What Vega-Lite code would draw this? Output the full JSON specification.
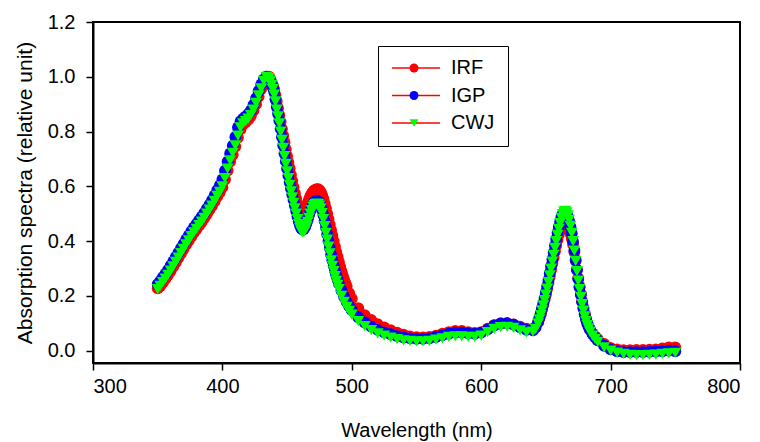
{
"$schema":"https://vega.github.io/schema/vega-lite/v6.json",
"width":647,"height":341,
"autosize":"none",
"padding":{"left":93,"top":22,"right":20,"bottom":79},
"config":{
 "font":"Liberation Sans",
 "view":{"stroke":"black","strokeWidth":2},
 "axis":{"domainColor":"black","domainWidth":2,"tickColor":"black","tickWidth":1.5,"tickSize":7,"labelFontSize":20,"labelColor":"black","titleFontSize":20,"titleFontWeight":"normal","titleColor":"black","grid":false,"labelFont":"Liberation Sans","titleFont":"Liberation Sans"}
},
"data":{"values":[
{"s":"IRF","w":350,"v":0.228},{"s":"IRF","w":352,"v":0.236},{"s":"IRF","w":354,"v":0.249},{"s":"IRF","w":356,"v":0.262},{"s":"IRF","w":358,"v":0.276},{"s":"IRF","w":360,"v":0.291},{"s":"IRF","w":362,"v":0.307},{"s":"IRF","w":364,"v":0.323},{"s":"IRF","w":366,"v":0.339},{"s":"IRF","w":368,"v":0.355},{"s":"IRF","w":370,"v":0.371},{"s":"IRF","w":372,"v":0.387},{"s":"IRF","w":374,"v":0.402},{"s":"IRF","w":376,"v":0.417},{"s":"IRF","w":378,"v":0.431},{"s":"IRF","w":380,"v":0.444},{"s":"IRF","w":382,"v":0.457},{"s":"IRF","w":384,"v":0.47},{"s":"IRF","w":386,"v":0.484},{"s":"IRF","w":388,"v":0.499},{"s":"IRF","w":390,"v":0.514},{"s":"IRF","w":392,"v":0.529},{"s":"IRF","w":394,"v":0.545},{"s":"IRF","w":396,"v":0.563},{"s":"IRF","w":398,"v":0.578},{"s":"IRF","w":400,"v":0.597},{"s":"IRF","w":402,"v":0.625},{"s":"IRF","w":404,"v":0.658},{"s":"IRF","w":406,"v":0.69},{"s":"IRF","w":408,"v":0.715},{"s":"IRF","w":410,"v":0.745},{"s":"IRF","w":412,"v":0.778},{"s":"IRF","w":414,"v":0.808},{"s":"IRF","w":416,"v":0.826},{"s":"IRF","w":418,"v":0.835},{"s":"IRF","w":420,"v":0.844},{"s":"IRF","w":422,"v":0.857},{"s":"IRF","w":424,"v":0.877},{"s":"IRF","w":426,"v":0.9},{"s":"IRF","w":428,"v":0.928},{"s":"IRF","w":430,"v":0.955},{"s":"IRF","w":432,"v":0.982},{"s":"IRF","w":434,"v":1.0},
{"s":"IRF","w":436,"v":1.0},{"s":"IRF","w":437,"v":0.992},{"s":"IRF","w":438,"v":0.98},{"s":"IRF","w":439,"v":0.968},{"s":"IRF","w":440,"v":0.955},{"s":"IRF","w":441,"v":0.933},{"s":"IRF","w":442,"v":0.91},{"s":"IRF","w":443,"v":0.885},{"s":"IRF","w":444,"v":0.86},{"s":"IRF","w":445,"v":0.835},{"s":"IRF","w":446,"v":0.81},{"s":"IRF","w":447,"v":0.785},{"s":"IRF","w":448,"v":0.76},{"s":"IRF","w":449,"v":0.735},{"s":"IRF","w":450,"v":0.71},{"s":"IRF","w":451,"v":0.687},{"s":"IRF","w":452,"v":0.665},{"s":"IRF","w":453,"v":0.642},{"s":"IRF","w":454,"v":0.62},{"s":"IRF","w":455,"v":0.597},{"s":"IRF","w":456,"v":0.575},{"s":"IRF","w":457,"v":0.555},{"s":"IRF","w":458,"v":0.535},{"s":"IRF","w":459,"v":0.52},{"s":"IRF","w":460,"v":0.51},{"s":"IRF","w":461,"v":0.505},{"s":"IRF","w":462,"v":0.505},{"s":"IRF","w":463,"v":0.508},{"s":"IRF","w":464,"v":0.515},{"s":"IRF","w":465,"v":0.527},{"s":"IRF","w":466,"v":0.54},{"s":"IRF","w":467,"v":0.553},{"s":"IRF","w":468,"v":0.565},{"s":"IRF","w":469,"v":0.573},{"s":"IRF","w":470,"v":0.58},{"s":"IRF","w":471,"v":0.585},{"s":"IRF","w":472,"v":0.588},{"s":"IRF","w":473,"v":0.59},{"s":"IRF","w":474,"v":0.59},{"s":"IRF","w":475,"v":0.586},{"s":"IRF","w":476,"v":0.58},{"s":"IRF","w":477,"v":0.569},{"s":"IRF","w":478,"v":0.555},{"s":"IRF","w":479,"v":0.538},{"s":"IRF","w":480,"v":0.52},{"s":"IRF","w":481,"v":0.5},{"s":"IRF","w":482,"v":0.48},{"s":"IRF","w":483,"v":0.46},{"s":"IRF","w":484,"v":0.44},{"s":"IRF","w":485,"v":0.42},{"s":"IRF","w":486,"v":0.4},{"s":"IRF","w":487,"v":0.38},{"s":"IRF","w":488,"v":0.36},{"s":"IRF","w":489,"v":0.342},{"s":"IRF","w":490,"v":0.325},{"s":"IRF","w":491,"v":0.307},{"s":"IRF","w":492,"v":0.29},{"s":"IRF","w":493,"v":0.275},{"s":"IRF","w":494,"v":0.26},{"s":"IRF","w":495,"v":0.247},{"s":"IRF","w":496,"v":0.235},{"s":"IRF","w":498,"v":0.21},{"s":"IRF","w":500,"v":0.19},
{"s":"IRF","w":505,"v":0.155},{"s":"IRF","w":510,"v":0.13},{"s":"IRF","w":515,"v":0.112},{"s":"IRF","w":520,"v":0.097},{"s":"IRF","w":525,"v":0.085},{"s":"IRF","w":530,"v":0.075},{"s":"IRF","w":535,"v":0.066},{"s":"IRF","w":540,"v":0.058},{"s":"IRF","w":545,"v":0.052},{"s":"IRF","w":550,"v":0.049},{"s":"IRF","w":555,"v":0.048},{"s":"IRF","w":560,"v":0.05},{"s":"IRF","w":565,"v":0.055},{"s":"IRF","w":570,"v":0.062},{"s":"IRF","w":575,"v":0.068},{"s":"IRF","w":580,"v":0.072},{"s":"IRF","w":585,"v":0.072},{"s":"IRF","w":590,"v":0.068},{"s":"IRF","w":595,"v":0.065},{"s":"IRF","w":600,"v":0.068},{"s":"IRF","w":605,"v":0.08},{"s":"IRF","w":610,"v":0.093},{"s":"IRF","w":615,"v":0.1},{"s":"IRF","w":620,"v":0.1},{"s":"IRF","w":625,"v":0.096},{"s":"IRF","w":630,"v":0.088},{"s":"IRF","w":635,"v":0.08},{"s":"IRF","w":640,"v":0.078},{"s":"IRF","w":642,"v":0.086},
{"s":"IRF","w":644,"v":0.104},{"s":"IRF","w":645,"v":0.118},{"s":"IRF","w":646,"v":0.133},{"s":"IRF","w":647,"v":0.15},{"s":"IRF","w":648,"v":0.167},{"s":"IRF","w":649,"v":0.186},{"s":"IRF","w":650,"v":0.205},{"s":"IRF","w":651,"v":0.226},{"s":"IRF","w":652,"v":0.248},{"s":"IRF","w":653,"v":0.271},{"s":"IRF","w":654,"v":0.295},{"s":"IRF","w":655,"v":0.318},{"s":"IRF","w":656,"v":0.34},{"s":"IRF","w":657,"v":0.363},{"s":"IRF","w":658,"v":0.385},{"s":"IRF","w":659,"v":0.405},{"s":"IRF","w":660,"v":0.425},{"s":"IRF","w":661,"v":0.44},{"s":"IRF","w":662,"v":0.45},{"s":"IRF","w":663,"v":0.457},{"s":"IRF","w":664,"v":0.46},{"s":"IRF","w":665,"v":0.46},{"s":"IRF","w":666,"v":0.455},{"s":"IRF","w":667,"v":0.448},{"s":"IRF","w":668,"v":0.44},{"s":"IRF","w":669,"v":0.427},{"s":"IRF","w":670,"v":0.41},{"s":"IRF","w":671,"v":0.388},{"s":"IRF","w":672,"v":0.36},{"s":"IRF","w":673,"v":0.328},{"s":"IRF","w":674,"v":0.295},{"s":"IRF","w":675,"v":0.265},{"s":"IRF","w":676,"v":0.235},{"s":"IRF","w":677,"v":0.207},{"s":"IRF","w":678,"v":0.18},{"s":"IRF","w":679,"v":0.157},{"s":"IRF","w":680,"v":0.135},{"s":"IRF","w":681,"v":0.117},{"s":"IRF","w":682,"v":0.1},{"s":"IRF","w":683,"v":0.088},{"s":"IRF","w":684,"v":0.078},{"s":"IRF","w":686,"v":0.063},{"s":"IRF","w":688,"v":0.052},{"s":"IRF","w":690,"v":0.043},
{"s":"IRF","w":695,"v":0.025},{"s":"IRF","w":700,"v":0.01},{"s":"IRF","w":705,"v":0.005},{"s":"IRF","w":710,"v":0.002},{"s":"IRF","w":715,"v":0.002},{"s":"IRF","w":720,"v":0.003},{"s":"IRF","w":725,"v":0.003},{"s":"IRF","w":730,"v":0.004},{"s":"IRF","w":735,"v":0.005},{"s":"IRF","w":740,"v":0.008},{"s":"IRF","w":745,"v":0.012},{"s":"IRF","w":750,"v":0.012},
{"s":"IGP","w":350,"v":0.243},{"s":"IGP","w":352,"v":0.255},{"s":"IGP","w":354,"v":0.268},{"s":"IGP","w":356,"v":0.281},{"s":"IGP","w":358,"v":0.295},{"s":"IGP","w":360,"v":0.31},{"s":"IGP","w":362,"v":0.326},{"s":"IGP","w":364,"v":0.342},{"s":"IGP","w":366,"v":0.358},{"s":"IGP","w":368,"v":0.374},{"s":"IGP","w":370,"v":0.39},{"s":"IGP","w":372,"v":0.406},{"s":"IGP","w":374,"v":0.421},{"s":"IGP","w":376,"v":0.436},{"s":"IGP","w":378,"v":0.45},{"s":"IGP","w":380,"v":0.463},{"s":"IGP","w":382,"v":0.476},{"s":"IGP","w":384,"v":0.489},{"s":"IGP","w":386,"v":0.503},{"s":"IGP","w":388,"v":0.518},{"s":"IGP","w":390,"v":0.533},{"s":"IGP","w":392,"v":0.549},{"s":"IGP","w":394,"v":0.567},{"s":"IGP","w":396,"v":0.586},{"s":"IGP","w":398,"v":0.603},{"s":"IGP","w":400,"v":0.625},{"s":"IGP","w":402,"v":0.657},{"s":"IGP","w":404,"v":0.69},{"s":"IGP","w":406,"v":0.72},{"s":"IGP","w":408,"v":0.748},{"s":"IGP","w":410,"v":0.78},{"s":"IGP","w":412,"v":0.815},{"s":"IGP","w":414,"v":0.837},{"s":"IGP","w":416,"v":0.847},{"s":"IGP","w":418,"v":0.855},{"s":"IGP","w":420,"v":0.864},{"s":"IGP","w":422,"v":0.877},{"s":"IGP","w":424,"v":0.897},{"s":"IGP","w":426,"v":0.922},{"s":"IGP","w":428,"v":0.948},{"s":"IGP","w":430,"v":0.972},{"s":"IGP","w":432,"v":0.99},{"s":"IGP","w":434,"v":1.0},
{"s":"IGP","w":436,"v":0.995},{"s":"IGP","w":437,"v":0.985},{"s":"IGP","w":438,"v":0.972},{"s":"IGP","w":439,"v":0.96},{"s":"IGP","w":440,"v":0.945},{"s":"IGP","w":441,"v":0.918},{"s":"IGP","w":442,"v":0.89},{"s":"IGP","w":443,"v":0.865},{"s":"IGP","w":444,"v":0.84},{"s":"IGP","w":445,"v":0.81},{"s":"IGP","w":446,"v":0.78},{"s":"IGP","w":447,"v":0.75},{"s":"IGP","w":448,"v":0.72},{"s":"IGP","w":449,"v":0.692},{"s":"IGP","w":450,"v":0.665},{"s":"IGP","w":451,"v":0.64},{"s":"IGP","w":452,"v":0.615},{"s":"IGP","w":453,"v":0.592},{"s":"IGP","w":454,"v":0.57},{"s":"IGP","w":455,"v":0.55},{"s":"IGP","w":456,"v":0.53},{"s":"IGP","w":457,"v":0.51},{"s":"IGP","w":458,"v":0.49},{"s":"IGP","w":459,"v":0.472},{"s":"IGP","w":460,"v":0.457},{"s":"IGP","w":461,"v":0.446},{"s":"IGP","w":462,"v":0.442},{"s":"IGP","w":463,"v":0.444},{"s":"IGP","w":464,"v":0.452},{"s":"IGP","w":465,"v":0.465},{"s":"IGP","w":466,"v":0.48},{"s":"IGP","w":467,"v":0.495},{"s":"IGP","w":468,"v":0.51},{"s":"IGP","w":469,"v":0.523},{"s":"IGP","w":470,"v":0.535},{"s":"IGP","w":471,"v":0.541},{"s":"IGP","w":472,"v":0.545},{"s":"IGP","w":473,"v":0.547},{"s":"IGP","w":474,"v":0.545},{"s":"IGP","w":475,"v":0.54},{"s":"IGP","w":476,"v":0.53},{"s":"IGP","w":477,"v":0.514},{"s":"IGP","w":478,"v":0.495},{"s":"IGP","w":479,"v":0.473},{"s":"IGP","w":480,"v":0.45},{"s":"IGP","w":481,"v":0.425},{"s":"IGP","w":482,"v":0.4},{"s":"IGP","w":483,"v":0.375},{"s":"IGP","w":484,"v":0.35},{"s":"IGP","w":485,"v":0.33},{"s":"IGP","w":486,"v":0.31},{"s":"IGP","w":487,"v":0.292},{"s":"IGP","w":488,"v":0.275},{"s":"IGP","w":489,"v":0.26},{"s":"IGP","w":490,"v":0.245},{"s":"IGP","w":492,"v":0.22},{"s":"IGP","w":494,"v":0.197},{"s":"IGP","w":496,"v":0.178},{"s":"IGP","w":498,"v":0.162},{"s":"IGP","w":500,"v":0.148},
{"s":"IGP","w":505,"v":0.122},{"s":"IGP","w":510,"v":0.103},{"s":"IGP","w":515,"v":0.088},{"s":"IGP","w":520,"v":0.076},{"s":"IGP","w":525,"v":0.067},{"s":"IGP","w":530,"v":0.06},{"s":"IGP","w":535,"v":0.053},{"s":"IGP","w":540,"v":0.048},{"s":"IGP","w":545,"v":0.045},{"s":"IGP","w":550,"v":0.043},{"s":"IGP","w":555,"v":0.043},{"s":"IGP","w":560,"v":0.045},{"s":"IGP","w":565,"v":0.05},{"s":"IGP","w":570,"v":0.056},{"s":"IGP","w":575,"v":0.062},{"s":"IGP","w":580,"v":0.066},{"s":"IGP","w":585,"v":0.066},{"s":"IGP","w":590,"v":0.063},{"s":"IGP","w":595,"v":0.062},{"s":"IGP","w":600,"v":0.066},{"s":"IGP","w":605,"v":0.078},{"s":"IGP","w":610,"v":0.092},{"s":"IGP","w":615,"v":0.099},{"s":"IGP","w":620,"v":0.1},{"s":"IGP","w":625,"v":0.095},{"s":"IGP","w":630,"v":0.085},{"s":"IGP","w":635,"v":0.076},{"s":"IGP","w":640,"v":0.074},{"s":"IGP","w":642,"v":0.085},
{"s":"IGP","w":644,"v":0.105},{"s":"IGP","w":645,"v":0.12},{"s":"IGP","w":646,"v":0.137},{"s":"IGP","w":647,"v":0.154},{"s":"IGP","w":648,"v":0.173},{"s":"IGP","w":649,"v":0.193},{"s":"IGP","w":650,"v":0.213},{"s":"IGP","w":651,"v":0.235},{"s":"IGP","w":652,"v":0.258},{"s":"IGP","w":653,"v":0.283},{"s":"IGP","w":654,"v":0.308},{"s":"IGP","w":655,"v":0.333},{"s":"IGP","w":656,"v":0.358},{"s":"IGP","w":657,"v":0.383},{"s":"IGP","w":658,"v":0.408},{"s":"IGP","w":659,"v":0.431},{"s":"IGP","w":660,"v":0.452},{"s":"IGP","w":661,"v":0.471},{"s":"IGP","w":662,"v":0.488},{"s":"IGP","w":663,"v":0.499},{"s":"IGP","w":664,"v":0.505},{"s":"IGP","w":665,"v":0.505},{"s":"IGP","w":666,"v":0.5},{"s":"IGP","w":667,"v":0.488},{"s":"IGP","w":668,"v":0.473},{"s":"IGP","w":669,"v":0.452},{"s":"IGP","w":670,"v":0.428},{"s":"IGP","w":671,"v":0.398},{"s":"IGP","w":672,"v":0.366},{"s":"IGP","w":673,"v":0.331},{"s":"IGP","w":674,"v":0.295},{"s":"IGP","w":675,"v":0.262},{"s":"IGP","w":676,"v":0.232},{"s":"IGP","w":677,"v":0.204},{"s":"IGP","w":678,"v":0.178},{"s":"IGP","w":679,"v":0.154},{"s":"IGP","w":680,"v":0.133},{"s":"IGP","w":681,"v":0.115},{"s":"IGP","w":682,"v":0.1},{"s":"IGP","w":683,"v":0.088},{"s":"IGP","w":684,"v":0.077},{"s":"IGP","w":686,"v":0.061},{"s":"IGP","w":688,"v":0.049},{"s":"IGP","w":690,"v":0.038},
{"s":"IGP","w":695,"v":0.018},{"s":"IGP","w":700,"v":0.005},{"s":"IGP","w":705,"v":-0.002},{"s":"IGP","w":710,"v":-0.005},{"s":"IGP","w":715,"v":-0.005},{"s":"IGP","w":720,"v":-0.005},{"s":"IGP","w":725,"v":-0.005},{"s":"IGP","w":730,"v":-0.004},{"s":"IGP","w":735,"v":-0.003},{"s":"IGP","w":740,"v":-0.002},{"s":"IGP","w":745,"v":0.0},{"s":"IGP","w":750,"v":-0.002},
{"s":"CWJ","w":350,"v":0.225},{"s":"CWJ","w":352,"v":0.237},{"s":"CWJ","w":354,"v":0.25},{"s":"CWJ","w":356,"v":0.263},{"s":"CWJ","w":358,"v":0.277},{"s":"CWJ","w":360,"v":0.292},{"s":"CWJ","w":362,"v":0.308},{"s":"CWJ","w":364,"v":0.324},{"s":"CWJ","w":366,"v":0.34},{"s":"CWJ","w":368,"v":0.356},{"s":"CWJ","w":370,"v":0.372},{"s":"CWJ","w":372,"v":0.388},{"s":"CWJ","w":374,"v":0.403},{"s":"CWJ","w":376,"v":0.418},{"s":"CWJ","w":378,"v":0.432},{"s":"CWJ","w":380,"v":0.445},{"s":"CWJ","w":382,"v":0.458},{"s":"CWJ","w":384,"v":0.471},{"s":"CWJ","w":386,"v":0.485},{"s":"CWJ","w":388,"v":0.5},{"s":"CWJ","w":390,"v":0.515},{"s":"CWJ","w":392,"v":0.53},{"s":"CWJ","w":394,"v":0.547},{"s":"CWJ","w":396,"v":0.565},{"s":"CWJ","w":398,"v":0.58},{"s":"CWJ","w":400,"v":0.6},{"s":"CWJ","w":402,"v":0.63},{"s":"CWJ","w":404,"v":0.665},{"s":"CWJ","w":406,"v":0.695},{"s":"CWJ","w":408,"v":0.722},{"s":"CWJ","w":410,"v":0.75},{"s":"CWJ","w":412,"v":0.785},{"s":"CWJ","w":414,"v":0.815},{"s":"CWJ","w":416,"v":0.83},{"s":"CWJ","w":418,"v":0.838},{"s":"CWJ","w":420,"v":0.847},{"s":"CWJ","w":422,"v":0.86},{"s":"CWJ","w":424,"v":0.88},{"s":"CWJ","w":426,"v":0.905},{"s":"CWJ","w":428,"v":0.932},{"s":"CWJ","w":430,"v":0.958},{"s":"CWJ","w":432,"v":0.985},{"s":"CWJ","w":434,"v":1.0},
{"s":"CWJ","w":436,"v":0.995},{"s":"CWJ","w":437,"v":0.985},{"s":"CWJ","w":438,"v":0.97},{"s":"CWJ","w":439,"v":0.955},{"s":"CWJ","w":440,"v":0.935},{"s":"CWJ","w":441,"v":0.91},{"s":"CWJ","w":442,"v":0.88},{"s":"CWJ","w":443,"v":0.855},{"s":"CWJ","w":444,"v":0.83},{"s":"CWJ","w":445,"v":0.8},{"s":"CWJ","w":446,"v":0.77},{"s":"CWJ","w":447,"v":0.74},{"s":"CWJ","w":448,"v":0.71},{"s":"CWJ","w":449,"v":0.682},{"s":"CWJ","w":450,"v":0.655},{"s":"CWJ","w":451,"v":0.63},{"s":"CWJ","w":452,"v":0.605},{"s":"CWJ","w":453,"v":0.582},{"s":"CWJ","w":454,"v":0.56},{"s":"CWJ","w":455,"v":0.54},{"s":"CWJ","w":456,"v":0.52},{"s":"CWJ","w":457,"v":0.5},{"s":"CWJ","w":458,"v":0.48},{"s":"CWJ","w":459,"v":0.462},{"s":"CWJ","w":460,"v":0.447},{"s":"CWJ","w":461,"v":0.436},{"s":"CWJ","w":462,"v":0.432},{"s":"CWJ","w":463,"v":0.434},{"s":"CWJ","w":464,"v":0.442},{"s":"CWJ","w":465,"v":0.455},{"s":"CWJ","w":466,"v":0.47},{"s":"CWJ","w":467,"v":0.485},{"s":"CWJ","w":468,"v":0.5},{"s":"CWJ","w":469,"v":0.513},{"s":"CWJ","w":470,"v":0.525},{"s":"CWJ","w":471,"v":0.531},{"s":"CWJ","w":472,"v":0.535},{"s":"CWJ","w":473,"v":0.537},{"s":"CWJ","w":474,"v":0.535},{"s":"CWJ","w":475,"v":0.53},{"s":"CWJ","w":476,"v":0.52},{"s":"CWJ","w":477,"v":0.502},{"s":"CWJ","w":478,"v":0.48},{"s":"CWJ","w":479,"v":0.455},{"s":"CWJ","w":480,"v":0.43},{"s":"CWJ","w":481,"v":0.405},{"s":"CWJ","w":482,"v":0.38},{"s":"CWJ","w":483,"v":0.355},{"s":"CWJ","w":484,"v":0.33},{"s":"CWJ","w":485,"v":0.31},{"s":"CWJ","w":486,"v":0.29},{"s":"CWJ","w":487,"v":0.272},{"s":"CWJ","w":488,"v":0.255},{"s":"CWJ","w":489,"v":0.24},{"s":"CWJ","w":490,"v":0.225},{"s":"CWJ","w":492,"v":0.2},{"s":"CWJ","w":494,"v":0.178},{"s":"CWJ","w":496,"v":0.16},{"s":"CWJ","w":498,"v":0.145},{"s":"CWJ","w":500,"v":0.132},
{"s":"CWJ","w":505,"v":0.108},{"s":"CWJ","w":510,"v":0.09},{"s":"CWJ","w":515,"v":0.075},{"s":"CWJ","w":520,"v":0.063},{"s":"CWJ","w":525,"v":0.055},{"s":"CWJ","w":530,"v":0.048},{"s":"CWJ","w":535,"v":0.042},{"s":"CWJ","w":540,"v":0.038},{"s":"CWJ","w":545,"v":0.036},{"s":"CWJ","w":550,"v":0.034},{"s":"CWJ","w":555,"v":0.034},{"s":"CWJ","w":560,"v":0.036},{"s":"CWJ","w":565,"v":0.04},{"s":"CWJ","w":570,"v":0.045},{"s":"CWJ","w":575,"v":0.05},{"s":"CWJ","w":580,"v":0.052},{"s":"CWJ","w":585,"v":0.052},{"s":"CWJ","w":590,"v":0.05},{"s":"CWJ","w":595,"v":0.05},{"s":"CWJ","w":600,"v":0.055},{"s":"CWJ","w":605,"v":0.068},{"s":"CWJ","w":610,"v":0.08},{"s":"CWJ","w":615,"v":0.086},{"s":"CWJ","w":620,"v":0.087},{"s":"CWJ","w":625,"v":0.083},{"s":"CWJ","w":630,"v":0.074},{"s":"CWJ","w":635,"v":0.067},{"s":"CWJ","w":640,"v":0.07},{"s":"CWJ","w":642,"v":0.08},
{"s":"CWJ","w":644,"v":0.1},{"s":"CWJ","w":645,"v":0.114},{"s":"CWJ","w":646,"v":0.13},{"s":"CWJ","w":647,"v":0.147},{"s":"CWJ","w":648,"v":0.165},{"s":"CWJ","w":649,"v":0.185},{"s":"CWJ","w":650,"v":0.205},{"s":"CWJ","w":651,"v":0.227},{"s":"CWJ","w":652,"v":0.25},{"s":"CWJ","w":653,"v":0.275},{"s":"CWJ","w":654,"v":0.3},{"s":"CWJ","w":655,"v":0.325},{"s":"CWJ","w":656,"v":0.35},{"s":"CWJ","w":657,"v":0.375},{"s":"CWJ","w":658,"v":0.4},{"s":"CWJ","w":659,"v":0.423},{"s":"CWJ","w":660,"v":0.445},{"s":"CWJ","w":661,"v":0.466},{"s":"CWJ","w":662,"v":0.485},{"s":"CWJ","w":663,"v":0.499},{"s":"CWJ","w":664,"v":0.508},{"s":"CWJ","w":665,"v":0.51},{"s":"CWJ","w":666,"v":0.505},{"s":"CWJ","w":667,"v":0.494},{"s":"CWJ","w":668,"v":0.478},{"s":"CWJ","w":669,"v":0.456},{"s":"CWJ","w":670,"v":0.43},{"s":"CWJ","w":671,"v":0.4},{"s":"CWJ","w":672,"v":0.365},{"s":"CWJ","w":673,"v":0.328},{"s":"CWJ","w":674,"v":0.29},{"s":"CWJ","w":675,"v":0.256},{"s":"CWJ","w":676,"v":0.225},{"s":"CWJ","w":677,"v":0.196},{"s":"CWJ","w":678,"v":0.17},{"s":"CWJ","w":679,"v":0.146},{"s":"CWJ","w":680,"v":0.125},{"s":"CWJ","w":681,"v":0.108},{"s":"CWJ","w":682,"v":0.093},{"s":"CWJ","w":683,"v":0.081},{"s":"CWJ","w":684,"v":0.07},{"s":"CWJ","w":686,"v":0.055},{"s":"CWJ","w":688,"v":0.043},{"s":"CWJ","w":690,"v":0.032},
{"s":"CWJ","w":695,"v":0.012},{"s":"CWJ","w":700,"v":0.0},{"s":"CWJ","w":705,"v":-0.007},{"s":"CWJ","w":710,"v":-0.012},{"s":"CWJ","w":715,"v":-0.015},{"s":"CWJ","w":720,"v":-0.016},{"s":"CWJ","w":725,"v":-0.016},{"s":"CWJ","w":730,"v":-0.015},{"s":"CWJ","w":735,"v":-0.014},{"s":"CWJ","w":740,"v":-0.012},{"s":"CWJ","w":745,"v":-0.01},{"s":"CWJ","w":750,"v":-0.008}
]},
"encoding":{
 "x":{"field":"w","type":"quantitative","scale":{"domain":[300,800],"nice":false,"zero":false},"axis":{"values":[300,400,500,600,700,800],"title":"Wavelength (nm)","labelPadding":6,"titlePadding":24}},
 "y":{"field":"v","type":"quantitative","scale":{"domain":[-0.045,1.2],"nice":false,"zero":false},"axis":{"values":[0,0.2,0.4,0.6,0.8,1.0,1.2],"format":".1f","title":"Absorption spectra (relative unit)","titleFontSize":21,"labelPadding":11,"titlePadding":12}}
},
"layer":[
 {"mark":{"type":"line","strokeWidth":1},
  "encoding":{"detail":{"field":"s"},
   "stroke":{"field":"s","type":"nominal","sort":["IRF","IGP","CWJ"],"scale":{"range":["#ff0000","#ff0000","#ff0000"]},
    "legend":{"orient":"none","legendX":285,"legendY":24,"title":null,"symbolType":"stroke","symbolSize":2304,"symbolStrokeWidth":1.5,"labelFontSize":20,"labelColor":"black","labelOffset":10,"rowPadding":7.5,"padding":13,"clipHeight":18,"strokeColor":"black"}}}},
 {"mark":{"type":"point","filled":true,"size":140,"opacity":1},
  "encoding":{
   "fill":{"field":"s","type":"nominal","scale":{"domain":["IRF","IGP","CWJ"],"range":["#ff0000","#0000ff","#00ff00"]},
    "legend":{"orient":"none","legendX":298,"legendY":24,"title":null,"symbolSize":80,"labelFontSize":20,"labelExpr":"' '","labelOffset":10,"rowPadding":7.5,"padding":13,"clipHeight":18}},
   "shape":{"field":"s","type":"nominal","scale":{"domain":["IRF","IGP","CWJ"],"range":["circle","circle","triangle-down"]},
    "legend":{"orient":"none","legendX":298,"legendY":24,"title":null,"symbolSize":80,"labelFontSize":20,"labelExpr":"' '","labelOffset":10,"rowPadding":7.5,"padding":13,"clipHeight":18}}
  }}
]
}
